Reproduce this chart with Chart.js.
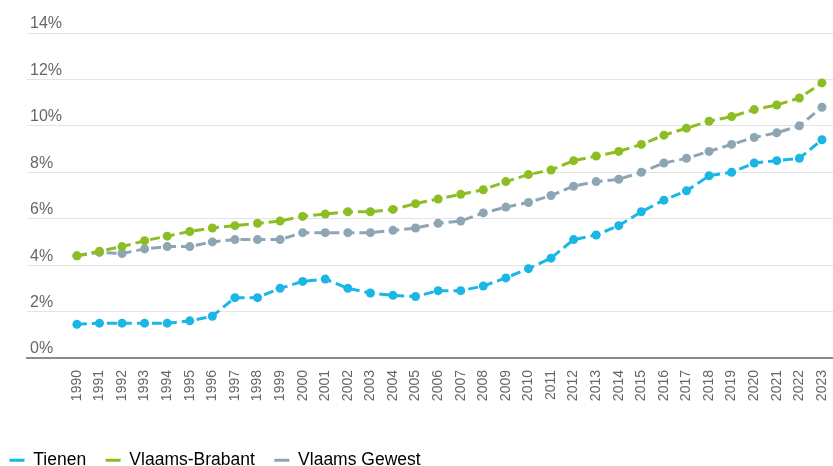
<!DOCTYPE html>
<html>
<head>
<meta charset="utf-8">
<script src="https://cdn.jsdelivr.net/npm/chart.js@4"></script>
<style>
  html, body { margin: 0; padding: 0; background: #fff; }
  #chart { display: block; }
</style>
</head>
<body>
<canvas id="chart" width="833" height="466"></canvas>
<script>
const years = [];
for (let y = 1990; y <= 2023; y++) years.push(y);

const tienen = [1.45, 1.5, 1.5, 1.5, 1.5, 1.6, 1.8, 2.6, 2.6, 3.0, 3.3, 3.4, 3.0, 2.8, 2.7, 2.65,
    2.9, 2.9, 3.1, 3.45, 3.85, 4.3, 5.1, 5.3, 5.7, 6.3, 6.8, 7.2, 7.85, 8.0, 8.4, 8.5, 8.6, 9.4];
const vlaamsBrabant = [4.4, 4.6, 4.8, 5.05, 5.25, 5.45, 5.6, 5.7, 5.8, 5.9, 6.1, 6.2, 6.3, 6.3, 6.4, 6.65,
    6.85, 7.05, 7.25, 7.6, 7.9, 8.1, 8.5, 8.7, 8.9, 9.2, 9.6, 9.9, 10.2, 10.4, 10.7, 10.9, 11.2, 11.85];
const vlaamsGewest = [4.4, 4.55, 4.5, 4.7, 4.8, 4.8, 5.0, 5.1, 5.1, 5.1, 5.4, 5.4, 5.4, 5.4, 5.5, 5.6,
    5.8, 5.9, 6.25, 6.5, 6.7, 7.0, 7.4, 7.6, 7.7, 8.0, 8.4, 8.6, 8.9, 9.2, 9.5, 9.7, 10.0, 10.8];

const seriesNames = ['Tienen', 'Vlaams-Brabant', 'Vlaams Gewest'];
const seriesColors = ['#1ab6e6', '#8cbe24', '#8ea6b4'];
const yTicks = [0, 2, 4, 6, 8, 10, 12, 14];

const font = 'Liberation Sans, Arial, sans-serif';

function makeDataset(i, values) {
    return {
        label: seriesNames[i],
        data: values.map((v, k) => ({ x: years[k], y: v })),
        borderColor: seriesColors[i],
        backgroundColor: seriesColors[i],
        borderWidth: 3,
        borderDash: [10, 5],
        pointRadius: 4.5,
        pointBorderWidth: 0,
        pointBackgroundColor: seriesColors[i],
        tension: 0
    };
}

new Chart(document.getElementById('chart'), {
    type: 'line',
    data: {
        datasets: [
            makeDataset(0, tienen),
            makeDataset(1, vlaamsBrabant),
            makeDataset(2, vlaamsGewest)
        ]
    },
    options: {
        responsive: false,
        animation: false,
        layout: {
            autoPadding: false,
            padding: { top: 33, left: -10, right: 0, bottom: -13 }
        },
        scales: {
            x: {
                type: 'linear',
                min: 1987.79,
                max: 2023.49,
                afterBuildTicks: (scale) => { scale.ticks = years.map(v => ({ value: v })); },
                afterFit: (scale) => {
                    scale.paddingLeft = 0;
                    scale.paddingRight = 0;
                    scale.height = 74;
                },
                grid: { display: false, drawTicks: false },
                border: { display: true, color: '#8c8c8c', width: 2 },
                ticks: {
                    autoSkip: false,
                    minRotation: 90,
                    maxRotation: 90,
                    padding: 12,
                    color: '#666',
                    font: { family: font, size: 14 },
                    callback: (v) => String(v)
                }
            },
            y: {
                min: 0,
                max: 14,
                afterBuildTicks: (scale) => { scale.ticks = yTicks.map(v => ({ value: v })); },
                afterFit: (scale) => {
                    scale.width = 37;
                    scale.paddingTop = 0;
                    scale.paddingBottom = 0;
                },
                grid: { color: '#e4e4e4', lineWidth: 1, drawTicks: false },
                border: { display: false },
                ticks: {
                    mirror: true,
                    padding: 3,
                    labelOffset: -9,
                    color: '#666',
                    font: { family: font, size: 16 },
                    callback: (v) => v + '%'
                }
            }
        },
        plugins: {
            tooltip: { enabled: false },
            legend: {
                position: 'bottom',
                align: 'start',
                labels: {
                    boxWidth: 15,
                    boxHeight: 3,
                    padding: 19.5,
                    color: '#444',
                    font: { family: font, size: 17.5 },
                    generateLabels: (chart) => chart.data.datasets.map((ds, i) => ({
                        text: ds.label,
                        fillStyle: seriesColors[i],
                        strokeStyle: seriesColors[i],
                        lineWidth: 0,
                        lineDash: [],
                        hidden: false,
                        datasetIndex: i
                    }))
                }
            }
        }
    }
});
</script>
</body>
</html>
